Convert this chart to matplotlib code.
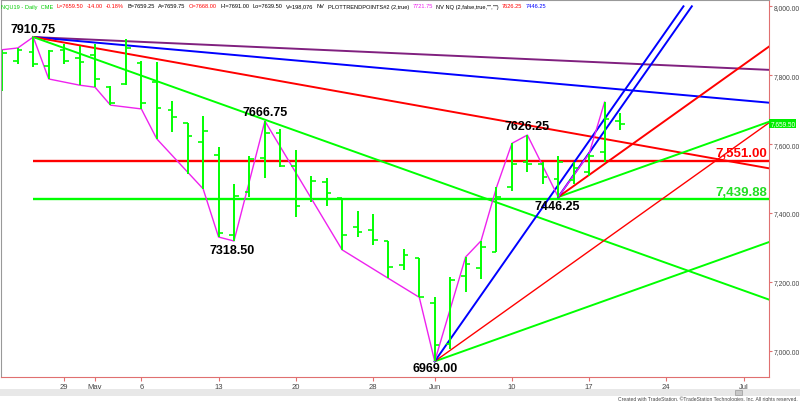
import numpy as np
import matplotlib
matplotlib.use('Agg')
import matplotlib.pyplot as plt
from matplotlib.patches import Rectangle

# daily bars NQU19, index 0 = Apr 23 2019 (trading days only)
bar_open = [7770, 7840, 7867, 7827, 7874, 7850, 7860, 7765, 7775, 7835,
            7780, 7700, 7660, 7607, 7568, 7335, 7460, 7560, 7632, 7537,
            7440, 7490, 7442, 7360, 7350, 7318, 7249, 7268, 7138, 7020,
            7218, 7239, 7287, 7474, 7547, 7542, 7498, 7495, 7520, 7576, 7668]
bar_high = [7874, 7879, 7910.75, 7874, 7890, 7886, 7890, 7769, 7905, 7842,
            7837, 7726, 7661, 7681, 7592, 7484, 7565, 7666.75, 7643, 7583,
            7508, 7500, 7442, 7405, 7397, 7319, 7295, 7268, 7157, 7213,
            7272, 7319, 7474, 7602, 7626.25, 7547, 7564, 7547, 7572, 7721.75, 7691]
bar_low = [7755, 7832, 7823, 7789, 7832, 7771, 7765, 7713, 7771, 7702,
           7615, 7635, 7513, 7470, 7330, 7318.5, 7446, 7502, 7533, 7388,
           7432, 7419, 7293, 7329, 7307, 7210, 7234, 7155, 6969, 7005,
           7169, 7208, 7286, 7465, 7518, 7484, 7446.25, 7484, 7508, 7547, 7639.5]
bar_close = [7865, 7874, 7832, 7871, 7840, 7837, 7789, 7720, 7880, 7720,
             7704, 7680, 7624, 7639, 7342, 7448, 7557, 7632, 7537, 7420,
             7494, 7458, 7337, 7346, 7321, 7242, 7279, 7157, 7016, 7205,
             7252, 7300, 7445, 7542, 7542, 7503, 7547, 7530, 7565, 7673, 7659.5]

# swing line (PLOTTRENDPOINTS)
zz_idx = [0, 1, 2, 3, 5, 6, 7, 9, 10, 13, 14, 15, 17, 22, 25, 27, 28,
          30, 31, 32, 33, 34, 36, 38, 39]
zz_val = [7874, 7879, 7910.75, 7789, 7771, 7765, 7713, 7702, 7615, 7470,
          7330, 7318.5, 7666.75, 7293, 7210, 7155, 6969, 7272, 7319, 7474,
          7602, 7626.25, 7446.25, 7572, 7721.75]

# pivots and their labels
piv_idx = [2, 17, 15, 28, 34, 36]
piv_val = [7910.75, 7666.75, 7318.50, 6969.00, 7626.25, 7446.25]

# retracement levels
lvl_red = 7551.00
lvl_green = 7439.88

# angles from the main top (points per bar)
top_idx = 2
top_val = 7910.75
down_slopes = [2, 4, 8, 16]
down_colors = ['#80207f', '#0000ff', '#ff0000', '#00ff00']

# angles from the two bottoms
bot_idx = [28, 36]
bot_val = [6969.00, 7446.25]
up_slopes = [16, 32, 64]
up_colors = ['#00ff00', '#ff0000', '#0000ff']

last_price = 7659.50

xtick_pos = [4, 6, 9, 14, 19, 24, 28, 33, 38, 43, 48]
xtick_lab = ['29', 'May', '6', '13', '20', '28', 'Jun', '10', '17', '24', 'Jul']
ytick_val = [7000, 7200, 7400, 7600, 7800, 8000]

plt.rcParams['font.family'] = ['Liberation Sans', 'DejaVu Sans']
small = ['Liberation Sans', 'DejaVu Sans']

W, H = 800, 402
fig = plt.figure(figsize=(8, 4.02), dpi=100)
ax = fig.add_axes([1/W, 1-378/H, 768/W, 377/H])
xmin, xmax = -0.09, 49.65
ax.set_xlim(xmin, xmax)
ax.set_ylim(6923.6, 8018.3)

green = '#00ff00'

# horizontal levels
ax.hlines(lvl_red, top_idx, xmax, color='#ff0000', lw=1.7)
ax.hlines(lvl_green, top_idx, xmax, color=green, lw=1.7)

# angle lines from top
for s, c in zip(down_slopes, down_colors):
    xs = np.array([top_idx, xmax])
    ax.plot(xs, top_val - s*(xs-top_idx), color=c, lw=1.4)

# angle lines from bottoms
for k in range(len(bot_idx)):
    for s, c in zip(up_slopes, up_colors):
        x_end = min(xmax, bot_idx[k] + (8000-bot_val[k])/s)
        xs = np.array([bot_idx[k], x_end])
        lw = 1.0 if (c == '#ff0000' and k == 0) else 1.4
        ax.plot(xs, bot_val[k] + s*(xs-bot_idx[k]), color=c, lw=lw)

# swing line
ax.plot(zz_idx, zz_val, color='#ee22ee', lw=1.0)

# OHLC bars
idx = np.arange(len(bar_open))
ax.vlines(idx, bar_low, bar_high, color=green, lw=1.4)
ax.hlines(bar_open, idx-0.3, idx, color=green, lw=1.2)
ax.hlines(bar_close, idx, idx+0.3, color=green, lw=1.2)

# pivot labels
offs = [(0, 1.8, 'bottom'), (0, 2.5, 'bottom'), (-1, -1.8, 'top'),
        (0, -0.8, 'top'), (0, 2.2, 'bottom'), (-1, -1.8, 'top')]
for i, v, (dx, dy, va) in zip(piv_idx, piv_val, offs):
    ax.annotate('%.2f' % v, (i, v), xytext=(dx, dy), textcoords='offset points',
                ha='center', va=va, fontsize=9, fontweight='bold', color='black')

ax.annotate('{:,.2f}'.format(lvl_red), (xmax, lvl_red), xytext=(-1.5, 5.5),
            textcoords='offset points', ha='right', va='center',
            fontsize=9.5, fontweight='bold', color='#ff0000')
ax.annotate('{:,.2f}'.format(lvl_green), (xmax, lvl_green), xytext=(-1.5, 5.5),
            textcoords='offset points', ha='right', va='center',
            fontsize=9.5, fontweight='bold', color='#22dd22')

# axes styling
axis_red = '#e07070'
for side in ['right', 'bottom']:
    ax.spines[side].set_color(axis_red)
for side in ['left', 'top']:
    ax.spines[side].set_color('#999999')
ax.yaxis.tick_right()
ax.set_yticks(ytick_val)
ax.set_yticklabels(['{:,.2f}'.format(v) for v in ytick_val], family=small,
                   fontsize=4.9, color='#444444')
ax.tick_params(axis='y', colors=axis_red, labelcolor='#444444', length=2.5, pad=0.6)
ax.set_xticks(xtick_pos)
ax.set_xticklabels(xtick_lab, family=small, fontsize=5.5, color='#444444')
ax.tick_params(axis='x', colors=axis_red, labelcolor='#444444', length=3, pad=1)

# last price tag
ax.annotate('{:,.2f}'.format(last_price), (xmax, last_price), xytext=(1.0, 0),
            textcoords='offset points', ha='left', va='center', family=small,
            fontsize=4.7, color='white', annotation_clip=False,
            bbox=dict(boxstyle='square,pad=0.15', fc='#00ee00', ec='none'))

# header line
header = [('NQU19 - Daily  CME', '#00cc00'), ('L=7659.50', '#ff0000'),
          ('-14.00', '#ff0000'), ('-0.18%', '#ff0000'), ('B=7659.25', 'black'),
          ('A=7659.75', 'black'), ('O=7668.00', '#ff0000'), ('Hi=7691.00', 'black'),
          ('Lo=7639.50', 'black'), ('V=198,076', 'black'), ('NV', 'black'),
          ('PLOTTRENDPOINTS#2 (2,true)', 'black'), ('7721.75', '#ee22ee'),
          ('NV NQ (2,false,true,"","")', 'black'), ('7626.25', '#ff0000'),
          ('7446.25', '#0000ff')]
prev = fig.text(1/W, 1-9.5/H, header[0][0], color=header[0][1], family=small,
                fontsize=4.1, ha='left', va='bottom')
for s, c in header[1:]:
    prev = ax.annotate(s, xy=(1, 0), xycoords=prev, xytext=(2.4, 0),
                       textcoords='offset points', color=c, family=small,
                       fontsize=4.1, ha='left', va='bottom', annotation_clip=False)

# scroll bar + footer
fig.patches.append(Rectangle((0, (H-397)/H), 1, 7/H, transform=fig.transFigure,
                             fc='#e8e8e8', ec='none'))
fig.patches.append(Rectangle((735/W, (H-396)/H), 7/W, 5/H, transform=fig.transFigure,
                             fc='#c8c8c8', ec='#999999', lw=0.5))
fig.text(798/W, 1-399/H, 'Created with TradeStation. \u00a9TradeStation Technologies, Inc. All rights reserved.',
         family=small, fontsize=3.6, color='#444444', ha='right', va='center')

fig.savefig('out.png', dpi=100)
